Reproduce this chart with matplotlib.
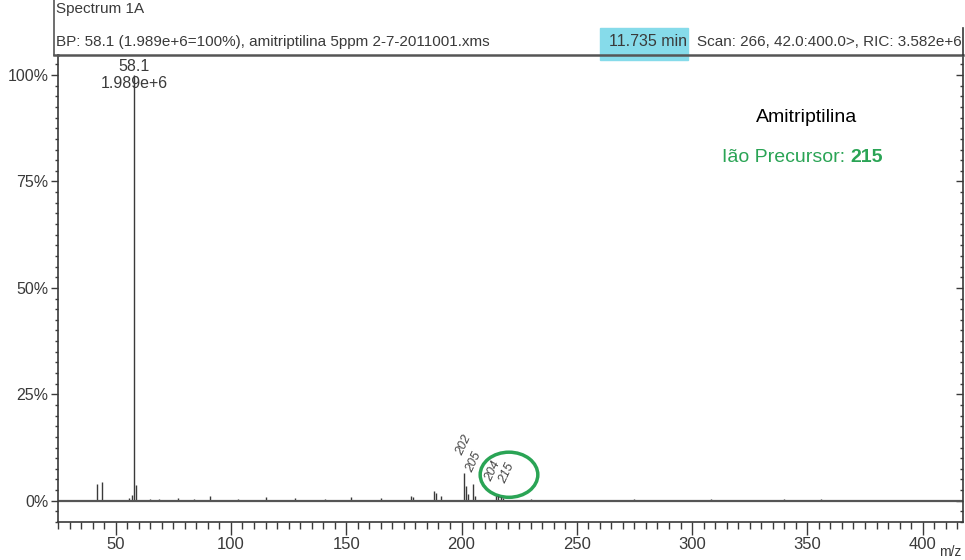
import matplotlib
matplotlib.use("Agg")
import matplotlib.pyplot as plt
from matplotlib.patches import Ellipse, Rectangle
from matplotlib.lines import Line2D
import numpy as np

plt.rcParams['font.family'] = ['Liberation Sans', 'DejaVu Sans']

# peaks (m/z, relative intensity %)
mz = [42, 44, 56, 57, 58.1, 59, 65, 69, 77, 84, 91, 103, 115, 128, 141,
      152, 165, 178, 179, 188, 189, 191, 201, 202, 203, 205, 206,
      215, 216, 217, 218, 230, 275, 308, 340, 356, 372, 390]
intensity = [4.0, 4.3, 0.6, 1.3, 100.0, 3.8, 0.4, 0.5, 0.6, 0.4, 1.0, 0.5, 0.9, 0.6, 0.4,
             0.8, 0.6, 1.0, 0.8, 2.2, 1.7, 1.2, 6.5, 3.5, 1.5, 4.0, 1.0,
             1.2, 1.0, 0.8, 0.6, 0.4, 0.4, 0.3, 0.3, 0.3, 0.2, 0.2]

x_major = [50, 100, 150, 200, 250, 300, 350, 400]
y_major = [0, 25, 50, 75, 100]
y_labels = ['0%', '25%', '50%', '75%', '100%']

base_peak_label = ['58.1', '1.989e+6']
header_left = ['Spectrum 1A',
               'BP: 58.1 (1.989e+6=100%), amitriptilina 5ppm 2-7-2011001.xms']
header_time = '11.735 min'
header_scan = 'Scan: 266, 42.0:400.0>, RIC: 3.582e+6'
handwritten = [('202', 201.0, 13.0), ('205', 205.5, 9.0), ('204', 213.5, 7.0), ('215', 219.5, 6.5)]

ink = '#3a3a3a'
green = '#2aa455'

W, H = 965, 560
fig = plt.figure(figsize=(W / 100, H / 100), dpi=100)
ax_l, ax_r, ax_b, ax_t = 58, 963, 522, 55
ax = fig.add_axes([ax_l / W, 1 - ax_b / H, (ax_r - ax_l) / W, (ax_b - ax_t) / H])
ax.patch.set_visible(False)

ax.vlines(mz, 0, intensity, color=ink, lw=1.0)
ax.axhline(0, color='#555555', lw=1.6)

ax.set_xlim(25, 417.5)
ax.set_ylim(-5, 104.7)

ax.set_xticks(x_major)
ax.set_xticks(np.arange(25, 418, 5), minor=True)
ax.set_yticks(y_major)
ax.set_yticklabels(y_labels)
ax.set_yticks(np.arange(-5, 104, 2.5), minor=True)

ax.tick_params(axis='x', which='major', direction='out', length=9, width=1,
               color=ink, labelsize=12, labelcolor=ink, pad=2)
ax.tick_params(axis='x', which='minor', direction='out', length=5, width=1, color=ink)
ax.tick_params(axis='y', which='major', direction='out', length=5, width=1,
               color=ink, labelsize=11.5, labelcolor=ink, pad=2, right=True)
ax.tick_params(axis='y', which='minor', direction='out', length=2.5, width=1,
               color=ink, right=True)
# right-hand ticks point into the plot
for t in ax.yaxis.get_major_ticks() + ax.yaxis.get_minor_ticks():
    t.tick2line.set_marker(matplotlib.lines.TICKLEFT)

for s in ax.spines.values():
    s.set_color(ink)
    s.set_linewidth(1.2)
ax.spines['top'].set_linewidth(1.8)
ax.spines['top'].set_color('#555555')

# base peak label
ax.text(58.1, 102.1, base_peak_label[0], ha='center', va='center', fontsize=11.5, color=ink)
ax.text(58.1, 97.9, base_peak_label[1], ha='center', va='center', fontsize=11.5, color=ink)

# handwritten marks and green circle
for txt, x, y in handwritten:
    ax.text(x, y, txt, rotation=65, ha='center', va='center', fontsize=9,
            color='#444444', style='italic')
ax.add_patch(Ellipse((220.6, 6.1), 25, 10.6, fill=False, ec=green, lw=2.5))

# header
fig.add_artist(Rectangle((600 / W, 1 - 60 / H), 88 / W, 32 / H, transform=fig.transFigure,
                         color='#86dbea', zorder=-1))
fig.add_artist(Line2D([54 / W, 54 / W], [1, 1 - 55 / H], color='#555555', lw=1.2))
fig.add_artist(Line2D([54 / W, ax_l / W], [1 - 55 / H, 1 - 55 / H], color='#555555', lw=1.8))
fig.add_artist(Line2D([963 / W, 963 / W], [1 - 28 / H, 1 - 55 / H], color=ink, lw=1.2))
fig.text(56 / W, 1 - 9 / H, header_left[0], ha='left', va='center', fontsize=11, color=ink)
fig.text(56 / W, 1 - 42 / H, header_left[1], ha='left', va='center', fontsize=11, color=ink)
fig.text(687 / W, 1 - 42 / H, header_time, ha='right', va='center', fontsize=11.5, color=ink)
fig.text(962 / W, 1 - 42 / H, header_scan, ha='right', va='center', fontsize=11, color=ink)

# compound annotation
fig.text(807 / W, 1 - 118 / H, 'Amitriptilina', ha='center', va='center', fontsize=14, color='black')
lab = fig.text(722 / W, 1 - 157 / H, 'Ião Precursor:', ha='left', va='center', fontsize=14, color=green)
ax.annotate('215', xy=(1, 0.5), xycoords=lab, xytext=(4, 0), textcoords='offset points',
            ha='left', va='center', fontsize=14, fontweight='bold', color=green,
            annotation_clip=False)

fig.text(950 / W, 1 - 552 / H, 'm/z', ha='center', va='center', fontsize=10, color=ink)

fig.savefig('out.png', dpi=100, facecolor='white')
